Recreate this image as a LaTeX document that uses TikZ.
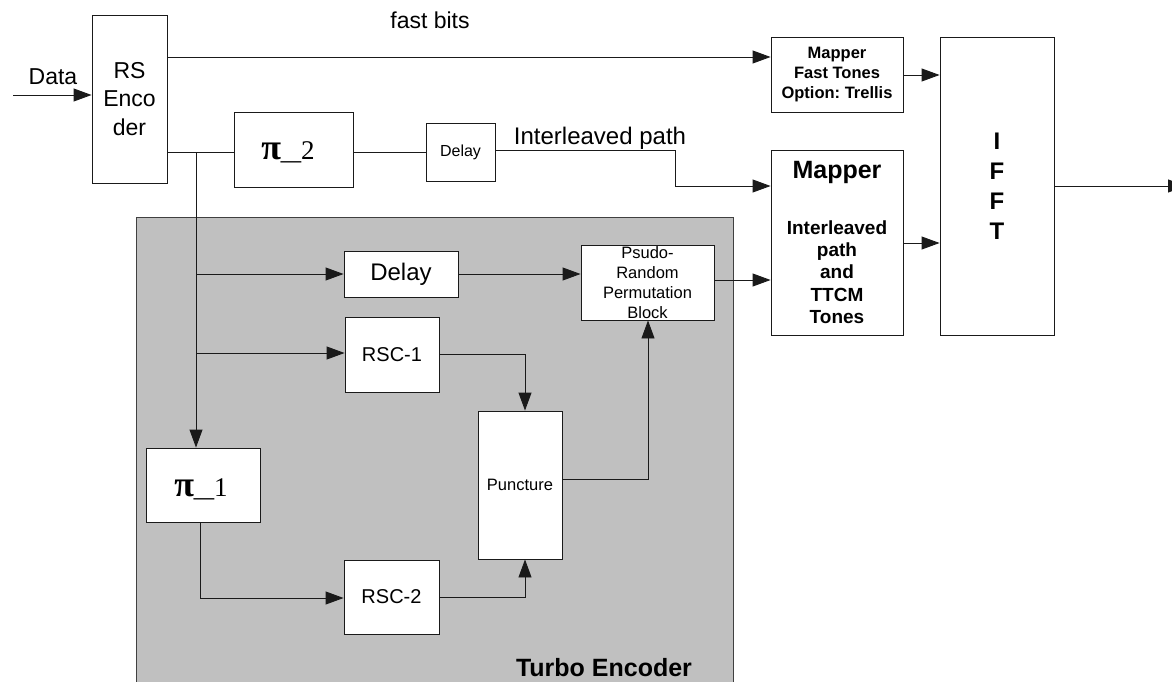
\documentclass[tikz,border=0pt]{standalone}
\usepackage{fontspec}
\setmainfont{Liberation Sans}
\newfontfamily\serifpi{Liberation Serif}
\usetikzlibrary{arrows.meta}
\definecolor{turbogray}{HTML}{C0C0C0}
\definecolor{lineblk}{HTML}{1A1A1A}
\frenchspacing
\begin{document}
\begin{tikzpicture}[x=1pt,y=-1pt,
  box/.style={draw=lineblk,line width=0.9pt,fill=white,rectangle,inner sep=0pt},
  conn/.style={line width=0.9pt,draw=lineblk},
  arr/.style={conn,-{Triangle[length=18pt,width=13pt]}},
  lbl/.style={inner sep=0pt,text=black},
  pilbl/.style={inner sep=0pt,font=\serifpi\fontsize{27}{27}\selectfont}]
\clip (0,0) rectangle (1172,682);
\fill[white] (0,0) rectangle (1172,682);

% turbo encoder container
\node[draw=black!75,line width=1.3pt,fill=turbogray,rectangle,inner sep=0pt,
  minimum width=597pt,minimum height=483pt,anchor=north west] (turbo) at (136,217) {};

% boxes
\node[box,minimum width=75pt,minimum height=168pt,align=center,
  font=\fontsize{23}{28.5}\selectfont] (rs) at (129.5,99) {RS\\Enco\\der};
\node[box,minimum width=119pt,minimum height=75pt] (pi2) at (293.5,149.5) {};
\node[pilbl] (pi2t) at (288,152) {{\bfseries\fontsize{36}{36}\selectfont π}\scalebox{1.5}[1]{\_}2};
\node[box,minimum width=69pt,minimum height=58pt,font=\fontsize{16}{19}\selectfont] (d1) at (460.5,152) {Delay};
\node[box,minimum width=132pt,minimum height=75pt,align=center,
  font=\bfseries\fontsize{16.5}{20}\selectfont] (m1) at (837,74.5) {Mapper\\Fast Tones\\Option: Trellis};
\node[box,minimum width=132pt,minimum height=185pt] (m2) at (837,242.5) {};
\node[lbl,font=\bfseries\fontsize{25}{30}\selectfont] (m2t) at (837,172) {Mapper};
\node[lbl,align=center,font=\bfseries\fontsize{19}{22.3}\selectfont] (m2s) at (837,272) {Interleaved\\path\\and\\TTCM\\Tones};
\node[box,minimum width=114pt,minimum height=298pt,align=center,
  font=\bfseries\fontsize{24}{30}\selectfont] (ifft) at (997,186) {I\\F\\F\\T};

\node[box,minimum width=114pt,minimum height=46pt,font=\fontsize{24}{28}\selectfont] (d2) at (401,274) {Delay};
\node[box,minimum width=133pt,minimum height=75pt,align=center,
  font=\fontsize{16.5}{20}\selectfont] (ps) at (647.5,282.5) {Psudo-\\Random\\Permutation\\Block};
\node[box,minimum width=94pt,minimum height=75pt,font=\fontsize{20}{24}\selectfont] (r1) at (392,354.5) {RSC-1};
\node[box,minimum width=84pt,minimum height=148pt,font=\fontsize{16.5}{20}\selectfont] (pu) at (520,485) {Puncture};
\node[box,minimum width=114pt,minimum height=74pt] (pi1) at (203,485) {};
\node[pilbl] (pi1t) at (201,489) {{\bfseries\fontsize{36}{36}\selectfont π}\scalebox{1.5}[1]{\_}1};
\node[box,minimum width=95pt,minimum height=74pt,font=\fontsize{20}{24}\selectfont] (r2) at (391.5,597) {RSC-2};

% labels
\node[lbl,anchor=base,font=\fontsize{23}{27}\selectfont] (datal) at (53,85) {Data};
\node[lbl,anchor=base,font=\fontsize{23}{27}\selectfont] (fbl) at (430,29) {fast bits};
\node[lbl,anchor=base,font=\fontsize{24}{28}\selectfont] (ipl) at (600,144) {Interleaved path};
\node[lbl,anchor=base,font=\bfseries\fontsize{25}{30}\selectfont] (tel) at (604,676) {Turbo Encoder};

% coordinates
\coordinate (din) at (13,95);
\coordinate (fb) at (170,57);
\coordinate (br) at (196,152);
\coordinate (k1a) at (675,150);
\coordinate (k1b) at (675,186);
\coordinate (y75) at (903,75);
\coordinate (y243) at (903,243);
\coordinate (out) at (1186,186);
\coordinate (bd) at (196,274);
\coordinate (br1) at (196,353);
\coordinate (r1k) at (525,354);
\coordinate (puk) at (648,479);
\coordinate (psy) at (714,280);
\coordinate (p1b) at (200,598);
\coordinate (r2k) at (525,597);

% connectors
\draw[arr] (din) -- (din -| rs.west);
\draw[arr] (rs.east |- fb) -- (fb -| m1.west);
\draw[conn] (rs.east |- br) -- (pi2.west |- br);
\draw[conn] (pi2.east |- br) -- (d1.west |- br);
\draw[arr] (d1.east |- k1a) -- (k1a) -- (k1b) -- (k1b -| m2.west);
\draw[arr] (m1.east |- y75) -- (y75 -| ifft.west);
\draw[arr] (m2.east |- y243) -- (y243 -| ifft.west);
\draw[arr] (ifft.east |- out) -- (out);
\draw[arr] (br) -- (br |- pi1.north);
\draw[arr] (bd) -- (bd -| d2.west);
\draw[arr] (br1) -- (br1 -| r1.west);
\draw[arr] (r1.east |- r1k) -- (r1k) -- (r1k |- pu.north);
\draw[arr] (d2.east) -- (d2.east -| ps.west);
\draw[arr] (pu.east |- puk) -- (puk) -- (puk |- ps.south);
\draw[arr] (ps.east |- psy) -- (psy -| m2.west);
\draw[arr] (p1b |- pi1.south) -- (p1b) -- (p1b -| r2.west);
\draw[arr] (r2.east |- r2k) -- (r2k) -- (r2k |- pu.south);
\end{tikzpicture}
\end{document}
